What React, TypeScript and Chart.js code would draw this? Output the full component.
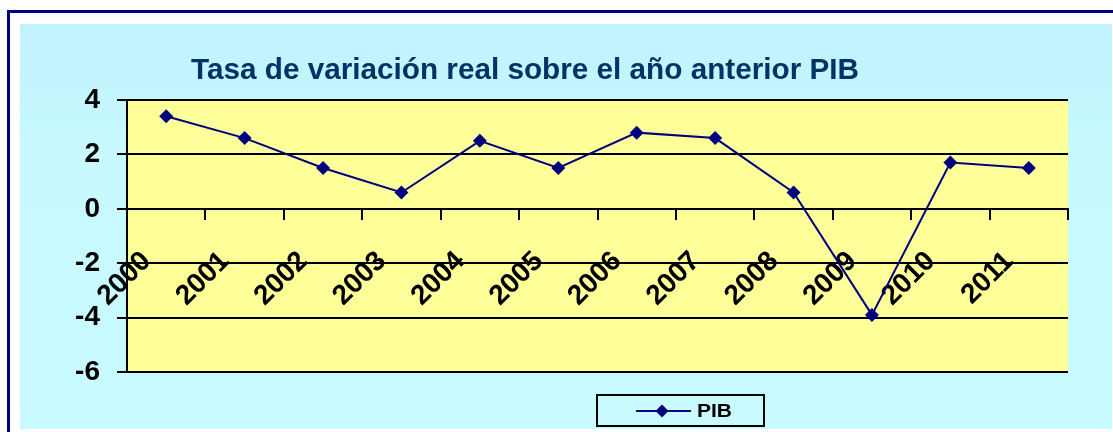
import React, { useEffect, useRef } from "react";
import { Chart, registerables } from "chart.js";

Chart.register(...registerables);

const TITLE = "Tasa de variación real sobre el año anterior PIB";
const SERIES_NAME = "PIB";
const years = [2000, 2001, 2002, 2003, 2004, 2005, 2006, 2007, 2008, 2009, 2010, 2011];
const pib = [3.4, 2.6, 1.5, 0.6, 2.5, 1.5, 2.8, 2.6, 0.6, -3.9, 1.7, 1.5];
const yTicks = [-6, -4, -2, 0, 2, 4];
const yearLabels = years.map((y) => String(y));

const FONT = "'Liberation Sans', Arial, sans-serif";
const NAVY = "#000080";

const decorPlugin = {
  id: "decor",
  beforeDraw(chart: any) {
    const { ctx, chartArea } = chart;
    ctx.save();
    ctx.fillStyle = "#FFFF99";
    ctx.fillRect(chartArea.left, chartArea.top, chartArea.right - chartArea.left, chartArea.bottom - chartArea.top);
    ctx.restore();
  },
  afterDraw(chart: any) {
    const { ctx } = chart;
    ctx.save();
    // title
    ctx.font = `bold 29px ${FONT}`;
    ctx.fillStyle = "#003366";
    ctx.textBaseline = "alphabetic";
    ctx.textAlign = "left";
    const w = ctx.measureText(TITLE).width;
    const target = 668;
    ctx.translate(191, 79);
    ctx.scale(target / w, 1);
    ctx.fillText(TITLE, 0, 0);
    ctx.restore();

    // legend
    ctx.save();
    ctx.lineWidth = 2;
    ctx.strokeStyle = "#000";
    ctx.strokeRect(597, 395, 167, 31);
    ctx.strokeStyle = NAVY;
    ctx.lineWidth = 2;
    ctx.beginPath();
    ctx.moveTo(636, 411);
    ctx.lineTo(691, 411);
    ctx.stroke();
    ctx.fillStyle = NAVY;
    ctx.beginPath();
    ctx.moveTo(662 - 6.5, 411);
    ctx.lineTo(662, 411 - 6.5);
    ctx.lineTo(662 + 6.5, 411);
    ctx.lineTo(662, 411 + 6.5);
    ctx.closePath();
    ctx.fill();
    ctx.fillStyle = "#000";
    ctx.font = `bold 18px ${FONT}`;
    ctx.textBaseline = "middle";
    ctx.textAlign = "left";
    const pw = ctx.measureText(SERIES_NAME).width;
    ctx.translate(697, 411);
    ctx.scale(35 / pw, 1);
    ctx.fillText(SERIES_NAME, 0, 1);
    ctx.restore();
  },
};

export default function App() {
  const canvasRef = useRef<HTMLCanvasElement | null>(null);

  useEffect(() => {
    const canvas = canvasRef.current;
    if (!canvas) return;
    const chart = new Chart(canvas, {
      type: "line",
      data: {
        datasets: [
          {
            label: SERIES_NAME,
            data: years.map((yr, i) => ({ x: yr, y: pib[i] })),
            borderColor: NAVY,
            backgroundColor: NAVY,
            borderWidth: 2,
            pointStyle: "rectRot",
            pointRadius: 7,
            pointBackgroundColor: NAVY,
            pointBorderColor: NAVY,
            pointBorderWidth: 0,
            tension: 0,
            xAxisID: "x",
            yAxisID: "y",
          },
        ],
      },
      options: {
        responsive: false,
        animation: false,
        layout: { padding: { left: 0, top: 100, right: 45, bottom: 60 } },
        plugins: {
          legend: { display: false },
          title: { display: false },
          tooltip: { enabled: false },
        },
        scales: {
          x: {
            type: "linear",
            position: { y: 0 },
            min: years[0] - 0.5,
            max: years[years.length - 1] + 0.5,
            afterBuildTicks: (axis: any) => {
              const t = [];
              for (let i = 0; i <= years.length; i++) t.push({ value: years[0] - 0.5 + i });
              axis.ticks = t;
            },
            ticks: { display: false },
            grid: { drawOnChartArea: false, drawTicks: true, tickLength: 10, color: "#000", lineWidth: 2 },
            border: { display: true, color: "#000", width: 2 },
          },
          xl: {
            type: "linear",
            position: { y: 0 },
            min: years[0] - 0.5,
            max: years[years.length - 1] + 0.5,
            afterBuildTicks: (axis: any) => {
              axis.ticks = years.map((yr) => ({ value: yr - 0.25 }));
            },
            ticks: {
              autoSkip: false,
              minRotation: 45,
              maxRotation: 45,
              padding: 28,
              color: "#000",
              font: { family: FONT, size: 28, weight: "bold" },
              callback: (_v: any, i: number) => yearLabels[i],
            },
            grid: { display: false },
            border: { display: false },
          },
          y: {
            type: "linear",
            min: -6,
            max: 4,
            afterBuildTicks: (axis: any) => {
              axis.ticks = yTicks.map((v) => ({ value: v }));
            },
            afterFit: (scale: any) => {
              scale.width = 127;
            },
            ticks: {
              color: "#000",
              padding: 17,
              font: { family: FONT, size: 28, weight: "bold" },
            },
            grid: { color: "#000", lineWidth: 2, tickLength: 10 },
            border: { color: "#000", width: 2 },
          },
        },
      },
      plugins: [decorPlugin],
    } as any);
    return () => chart.destroy();
  }, []);

  return (
    <div style={{ position: "absolute", left: 0, top: 0, width: 1113, height: 432, background: "#fff", overflow: "hidden" }}>
      <div
        style={{
          position: "absolute",
          left: 7,
          top: 10,
          width: 1130,
          height: 450,
          border: `3px solid ${NAVY}`,
          boxSizing: "border-box",
        }}
      />
      <div
        style={{
          position: "absolute",
          left: 20,
          top: 24,
          width: 1092,
          height: 405,
          background: "linear-gradient(180deg, #C2F2FE 0%, #C7F9FF 30%, #C8FAFF 100%)",
        }}
      />
      <canvas ref={canvasRef} width={1113} height={432} style={{ position: "absolute", left: 0, top: 0 }} />
    </div>
  );
}
